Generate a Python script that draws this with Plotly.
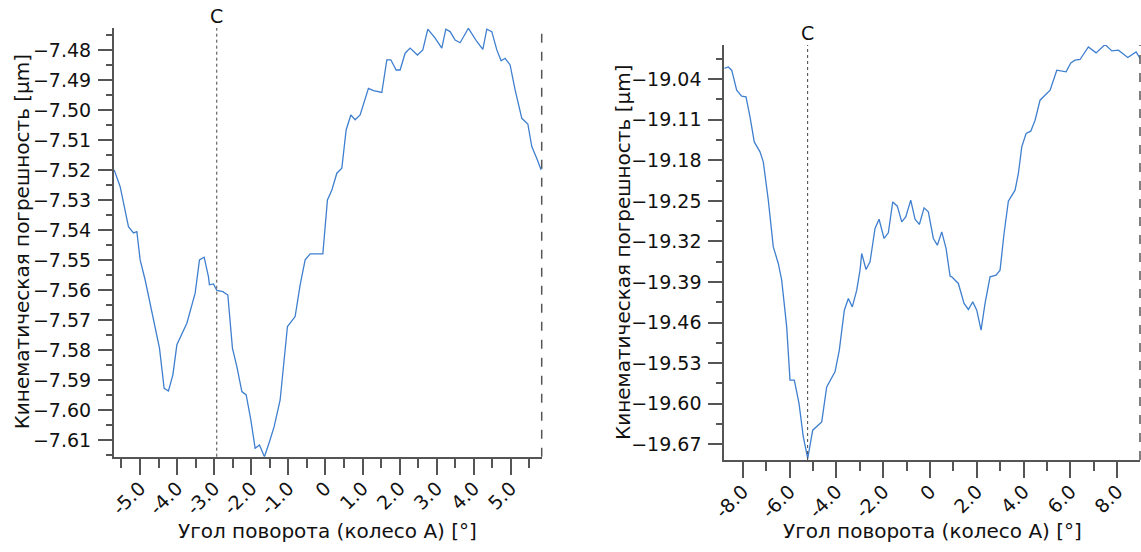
import plotly.graph_objects as go

# ---- data: left chart ----
left_angle = [-5.695, -5.534, -5.310, -5.175, -5.084, -4.995, -4.860, -4.679, -4.474, -4.348,
              -4.232, -4.113, -4.005, -3.736, -3.512, -3.396, -3.270, -3.154, -3.127, -3.019,
              -2.927, -2.765, -2.631, -2.507, -2.388, -2.253, -2.137, -2.011, -1.895, -1.779,
              -1.644, -1.509, -1.383, -1.221, -1.132, -1.024, -0.817, -0.682, -0.547, -0.412,
              -0.070, 0.054, 0.173, 0.307, 0.442, 0.558, 0.685, 0.801, 0.935, 1.159,
              1.294, 1.520, 1.655, 1.763, 1.906, 2.013, 2.148, 2.283, 2.480, 2.625,
              2.760, 2.957, 3.137, 3.245, 3.361, 3.496, 3.631, 3.854, 4.081, 4.243,
              4.350, 4.485, 4.620, 4.736, 4.844, 4.978, 5.113, 5.294, 5.456, 5.563,
              5.714, 5.814]
left_error = [-7.5200, -7.5256, -7.5389, -7.5410, -7.5406, -7.5500, -7.5567, -7.5678, -7.5794, -7.5928,
              -7.5937, -7.5883, -7.5783, -7.5711, -7.5611, -7.5500, -7.5491, -7.5556, -7.5583, -7.5580,
              -7.5602, -7.5606, -7.5617, -7.5794, -7.5856, -7.5939, -7.5950, -7.6033, -7.6128, -7.6117,
              -7.6156, -7.6106, -7.6056, -7.5967, -7.5856, -7.5722, -7.5689, -7.5583, -7.5500, -7.5480,
              -7.5480, -7.5300, -7.5267, -7.5211, -7.5194, -7.5067, -7.5017, -7.5033, -7.5017, -7.4928,
              -7.4936, -7.4942, -7.4833, -7.4833, -7.4867, -7.4867, -7.4811, -7.4794, -7.4817, -7.4800,
              -7.4731, -7.4761, -7.4794, -7.4731, -7.4739, -7.4767, -7.4776, -7.4728, -7.4772, -7.4798,
              -7.4731, -7.4739, -7.4800, -7.4836, -7.4828, -7.4850, -7.4933, -7.5028, -7.5047, -7.5122,
              -7.5167, -7.5200]
left_c = -2.93
left_xrange = [-5.70, 5.83]
left_yrange = [-7.6156, -7.4727]
left_xticks = [-5, -4, -3, -2, -1, 0, 1, 2, 3, 4, 5]
left_xticktext = ["-5.0", "-4.0", "-3.0", "-2.0", "-1.0", "0", "1.0", "2.0", "3.0", "4.0", "5.0"]
left_yticks = [-7.61, -7.60, -7.59, -7.58, -7.57, -7.56, -7.55, -7.54, -7.53, -7.52, -7.51, -7.50, -7.49, -7.48]

# ---- data: right chart ----
right_angle = [-8.791, -8.620, -8.474, -8.261, -8.047, -7.863, -7.692, -7.509, -7.265, -7.124,
               -6.910, -6.697, -6.483, -6.338, -6.124, -5.983, -5.799, -5.598, -5.415, -5.226,
               -5.013, -4.628, -4.415, -4.060, -3.876, -3.662, -3.491, -3.321, -3.132, -2.991,
               -2.919, -2.735, -2.564, -2.350, -2.179, -1.966, -1.782, -1.594, -1.397, -1.209,
               -1.038, -0.825, -0.641, -0.457, -0.256, -0.073, 0.141, 0.312, 0.500, 0.684,
               0.855, 0.927, 1.209, 1.453, 1.637, 1.825, 1.996, 2.179, 2.350, 2.564,
               2.821, 2.991, 3.162, 3.346, 3.632, 3.774, 3.919, 4.103, 4.303, 4.487,
               4.701, 4.915, 5.128, 5.415, 5.628, 5.812, 6.013, 6.197, 6.410, 6.765,
               7.094, 7.479, 7.765, 8.047, 8.449, 8.803, 8.974]
right_error = [-19.0215, -19.0188, -19.0245, -19.0590, -19.0693, -19.0705, -19.1050, -19.1482, -19.1654, -19.1827,
               -19.2487, -19.3293, -19.3579, -19.3867, -19.4673, -19.5592, -19.5592, -19.5994, -19.6570, -19.6943,
               -19.6455, -19.6312, -19.5708, -19.5449, -19.5075, -19.4385, -19.4183, -19.4328, -19.4040, -19.3695,
               -19.3407, -19.3683, -19.3552, -19.2975, -19.2815, -19.3148, -19.3051, -19.2517, -19.2591, -19.2862,
               -19.2775, -19.2487, -19.2815, -19.2906, -19.2620, -19.2689, -19.3148, -19.3264, -19.3034, -19.3320,
               -19.3798, -19.3810, -19.3924, -19.4269, -19.4373, -19.4242, -19.4385, -19.4730, -19.4269, -19.3810,
               -19.3781, -19.3695, -19.3062, -19.2505, -19.2315, -19.2027, -19.1568, -19.1337, -19.1297, -19.1107,
               -19.0762, -19.0676, -19.0590, -19.0245, -19.0257, -19.0274, -19.0119, -19.0072, -19.0060, -18.9843,
               -18.9946, -18.9801, -18.9912, -18.9900, -19.0026, -18.9929, -19.0043]
right_c = -5.23
right_xrange = [-8.79, 8.97]
right_yrange = [-19.697, -18.981]
right_xticks = [-8, -6, -4, -2, 0, 2, 4, 6, 8]
right_xticktext = ["-8.0", "-6.0", "-4.0", "-2.0", "0", "2.0", "4.0", "6.0", "8.0"]
right_yticks = [-19.67, -19.60, -19.53, -19.46, -19.39, -19.32, -19.25, -19.18, -19.11, -19.04]

x_title = "Угол поворота (колесо А) [°]"
y_title = "Кинематическая погрешность [µm]"
marker_label = "C"

# ---- styling ----
FONT = "DejaVu Sans"
TXT = "#111111"
AX = "#555555"
LINE = "#3f7fcf"
FS = 19
W, H = 1141, 552

fig = go.Figure()
fig.add_trace(go.Scatter(x=left_angle, y=left_error, mode="lines",
                         line=dict(color=LINE, width=1.3), xaxis="x", yaxis="y",
                         showlegend=False, hoverinfo="x+y"))
fig.add_trace(go.Scatter(x=right_angle, y=right_error, mode="lines",
                         line=dict(color=LINE, width=1.3), xaxis="x2", yaxis="y2",
                         showlegend=False, hoverinfo="x+y"))


def xaxis(domain, rng, tv, tt, minor_dt, anchor):
    return dict(domain=domain, range=rng, anchor=anchor, tickvals=tv, ticktext=tt,
                automargin=False, ticklabelstandoff=-5,
                tickangle=-45, ticks="outside", ticklen=16, tickwidth=1.5, tickcolor=AX,
                showline=True, linecolor=AX, linewidth=2, showgrid=False, zeroline=False,
                tickfont=dict(family=FONT, size=FS, color=TXT),
                minor=dict(dtick=minor_dt, tick0=0, ticks="outside", ticklen=9,
                           tickwidth=1.5, tickcolor=AX, showgrid=False))


def yaxis(domain, rng, tv, fmt, minor_dt, tick0, anchor):
    return dict(domain=domain, range=rng, anchor=anchor, tickvals=tv, tickformat=fmt,
                automargin=False, ticklabelstandoff=3,
                ticks="outside", ticklen=14, tickwidth=1.5, tickcolor=AX,
                showline=True, linecolor=AX, linewidth=2, showgrid=False, zeroline=False,
                tickfont=dict(family=FONT, size=FS, color=TXT),
                minor=dict(dtick=minor_dt, tick0=tick0, ticks="outside", ticklen=6,
                           tickwidth=1.5, tickcolor=AX, showgrid=False))


fig.update_layout(
    width=W, height=H,
    margin=dict(l=0, r=0, t=0, b=0, autoexpand=False),
    paper_bgcolor="white", plot_bgcolor="white",
    xaxis=xaxis([114 / W, 541.7 / W], left_xrange, left_xticks, left_xticktext, 0.5, "y"),
    yaxis=yaxis([1 - 456.7 / H, 1 - 28 / H], left_yrange, left_yticks, ".2f", 0.005, -7.48, "x"),
    xaxis2=xaxis([724.3 / W, 1140 / W], right_xrange, right_xticks, right_xticktext, 1, "y2"),
    yaxis2=yaxis([1 - 460 / H, 1 - 45 / H], right_yrange, right_yticks, ".2f", 0.035, -19.04, "x2"),
)

# axis titles placed as annotations
title_font = dict(family=FONT, size=FS + 1, color=TXT)
for xr in ("x", "x2"):
    fig.add_annotation(x=0.5, xref=xr + " domain", y=1 - 531 / H, yref="paper",
                       text=x_title, showarrow=False, xanchor="center", yanchor="middle",
                       font=title_font)
for xpix, yr in ((22, "y"), (622.5, "y2")):
    fig.add_annotation(x=xpix / W, xref="paper", y=0.5, yref=yr + " domain",
                       text=y_title, textangle=-90, showarrow=False,
                       xanchor="center", yanchor="middle", font=title_font)

# C marker lines and right-edge dashed borders
for xr, yr, cval in (("x", "y", left_c), ("x2", "y2", right_c)):
    fig.add_shape(type="line", xref=xr, yref=yr + " domain", x0=cval, x1=cval, y0=0, y1=1,
                  line=dict(color="#444444", width=1, dash="dot"))
    fig.add_shape(type="line", xref=xr + " domain", yref=yr + " domain", x0=1, x1=1, y0=0, y1=1,
                  line=dict(color="#555555", width=1.5, dash="dash"))
    fig.add_annotation(x=cval, xref=xr, y=1, yref=yr + " domain", yanchor="bottom", yshift=-1,
                       text=marker_label, showarrow=False,
                       font=dict(family=FONT, size=FS, color=TXT))

fig.write_html("out.html")
